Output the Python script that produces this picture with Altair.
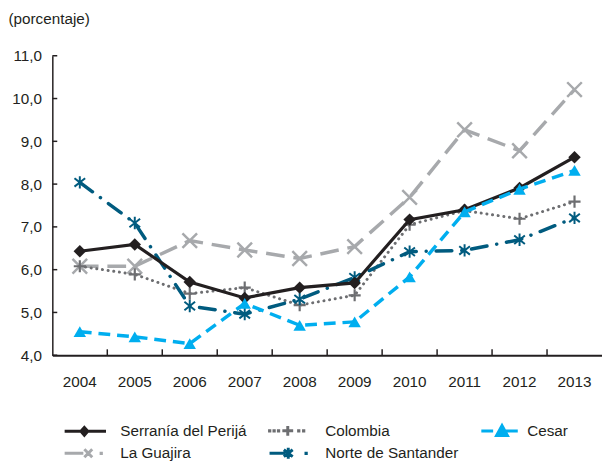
import altair as alt
import pandas as pd

years = ["2004", "2005", "2006", "2007", "2008", "2009", "2010", "2011", "2012", "2013"]
SERR = "Serranía del Perijá"
series_names = [SERR, "Colombia", "Cesar", "La Guajira", "Norte de Santander"]
serrania = [6.43, 6.59, 5.71, 5.34, 5.58, 5.69, 7.17, 7.40, 7.91, 8.63]
colombia = [6.08, 5.89, 5.44, 5.58, 5.17, 5.40, 7.05, 7.38, 7.19, 7.59]
cesar = [4.55, 4.43, 4.27, 5.21, 4.70, 4.78, 5.83, 7.35, 7.88, 8.32]
guajira = [6.08, 6.08, 6.68, 6.46, 6.26, 6.54, 7.69, 9.27, 8.78, 10.21]
norte = [8.04, 7.09, 5.15, 4.96, 5.31, 5.82, 6.42, 6.45, 6.70, 7.21]
y_ticks = [4, 5, 6, 7, 8, 9, 10, 11]

values = [serrania, colombia, cesar, guajira, norte]
rows = []
for name, vals in zip(series_names, values):
    for yr, v in zip(years, vals):
        rows.append({"year": yr, "serie": name, "value": v})
df = pd.DataFrame(rows)
df_yt = pd.DataFrame({"value": y_ticks})
df_xt = pd.DataFrame({"year": years[1:]})

colors = ["#231f20", "#6d6e71", "#00aeef", "#a7a9ac", "#005b7f"]
FONT = "Liberation Sans"
TXT = "#231f20"
FS = 15.5

W, H = 558, 304

xscale = alt.Scale(domain=years, paddingInner=0, paddingOuter=0)
yscale = alt.Scale(domain=[4, 11], nice=False, zero=False)

x_axis = alt.Axis(labelAngle=0, ticks=False, labelPadding=20, labelFontSize=FS,
                  labelFont=FONT, labelColor=TXT, domainColor=TXT, domainWidth=2)
y_axis = alt.Axis(values=y_ticks, ticks=False, grid=False, labelPadding=11,
                  labelFontSize=FS, labelFont=FONT, labelColor=TXT,
                  labelExpr="replace(format(datum.value, '.1f'), '.', ',')",
                  domainColor=TXT, domainWidth=1.5,
                  titleAngle=0, titleAlign="left", titleBaseline="alphabetic",
                  titleX=-45, titleY=-33, titleFontSize=FS, titleFont=FONT,
                  titleFontWeight="normal", titleColor=TXT)

x_enc = alt.X("year:N", scale=xscale, title=None, axis=x_axis)
y_enc = alt.Y("value:Q", scale=yscale, title="(porcentaje)", axis=y_axis)

base = alt.Chart(df)

def line_layer(name, color, width, dash=None, cap="butt"):
    kw = dict(color=color, strokeWidth=width, strokeCap=cap)
    if dash:
        kw["strokeDash"] = dash
    return base.transform_filter(alt.datum.serie == name).mark_line(**kw).encode(x=x_enc, y=y_enc)

def point_layer(name, shape, size, color, filled, sw=0):
    kw = dict(shape=shape, size=size, opacity=1)
    if filled:
        kw.update(filled=True, fill=color, strokeWidth=0)
    else:
        kw.update(filled=False, stroke=color, strokeWidth=sw)
    return base.transform_filter(alt.datum.serie == name).mark_point(**kw).encode(x=x_enc, y=y_enc)

PLUS = "M-1,0L1,0M0,-1L0,1"
XSH = "M-1,-1L1,1M-1,1L1,-1"
AST = "M0,-1.1L0,1.1M-0.95,-0.75L0.95,0.75M-0.95,0.75L0.95,-0.75"

layers = [
    line_layer("La Guajira", colors[3], 3.5, [19, 9]),
    point_layer("La Guajira", XSH, 220, colors[3], False, 2.5),
    line_layer("Colombia", colors[1], 3, [0.1, 5.7], "round"),
    point_layer("Colombia", PLUS, 150, colors[1], False, 2.2),
    line_layer("Norte de Santander", colors[4], 3.5, [16, 10, 0.1, 10], "round"),
    point_layer("Norte de Santander", AST, 130, colors[4], False, 2),
    line_layer(SERR, colors[0], 3.2),
    point_layer(SERR, "diamond", 160, colors[0], True),
    line_layer("Cesar", colors[2], 3.5, [12, 7]),
    point_layer("Cesar", "triangle-up", 160, colors[2], True),
]

# inward axis ticks
xticks = alt.Chart(df_xt).mark_rule(color=TXT, strokeWidth=1.5).encode(
    x=alt.X("year:N", scale=xscale, bandPosition=0, title=None, axis=x_axis),
    y=alt.value(H - 6), y2=alt.value(H))
yticks = alt.Chart(df_yt).mark_rule(color=TXT, strokeWidth=1.5).encode(
    y=alt.Y("value:Q", scale=yscale, title="(porcentaje)", axis=y_axis),
    x=alt.value(0), x2=alt.value(5))

# legend symbols (line segment + marker), units of 10px around the symbol centre
DOT = "h0.03v0.03h-0.03Z"
L_SERR = "M-2.1,0L2.1,0M-0.1,-0.4L0.25,0L-0.1,0.4L-0.45,0Z"
L_COL = ("M-2.1,0" + DOT + "M-1.65,0" + DOT + "M-1.2,0" + DOT +
         "M-0.8,0L0.3,0M-0.25,-0.5L-0.25,0.5"
         "M0.85,0" + DOT + "M1.35,0" + DOT)
L_CES = "M-1.1,0L0.1,0M0.45,0.45L1.0,-0.55L1.55,0.45ZM1.1,0L2.6,0"
L_GUA = "M-2.1,0L-0.2,0M-0.1,-0.4L0.7,0.4M-0.1,0.4L0.7,-0.4M1.6,0" + DOT
L_NOR = "M-2.1,0L-0.5,0M-0.2,-0.55L-0.2,0.55M-0.65,-0.35L0.25,0.35M-0.65,0.35L0.25,-0.35M1.6,0" + DOT
leg_shapes = [L_SERR, L_COL, L_CES, L_GUA, L_NOR]

leg = alt.Legend(title=None, orient="none", legendX=22, legendY=369, columns=3,
                 direction="horizontal",
                 labelFontSize=FS, labelFont=FONT, labelColor=TXT, symbolSize=400,
                 symbolStrokeWidth=3, labelOffset=24, columnPadding=16, rowPadding=0,
                 labelLimit=400)
cscale = alt.Scale(domain=series_names, range=colors)
dummy = base.transform_filter("false").mark_point(opacity=1, strokeWidth=3).encode(
    x=x_enc, y=y_enc,
    fill=alt.Fill("serie:N", scale=cscale, legend=leg),
    stroke=alt.Stroke("serie:N", scale=cscale, legend=leg),
    shape=alt.Shape("serie:N", scale=alt.Scale(domain=series_names, range=leg_shapes), legend=leg),
)

chart = alt.layer(*layers, xticks, yticks, dummy).properties(
    width=W, height=H, padding={"left": 0, "top": 0, "right": 0, "bottom": 0}
).configure_view(stroke=None).configure_legend(symbolStrokeWidth=3, symbolSize=400)

chart.save("out.html", embed_options={"renderer": "svg", "actions": False})
